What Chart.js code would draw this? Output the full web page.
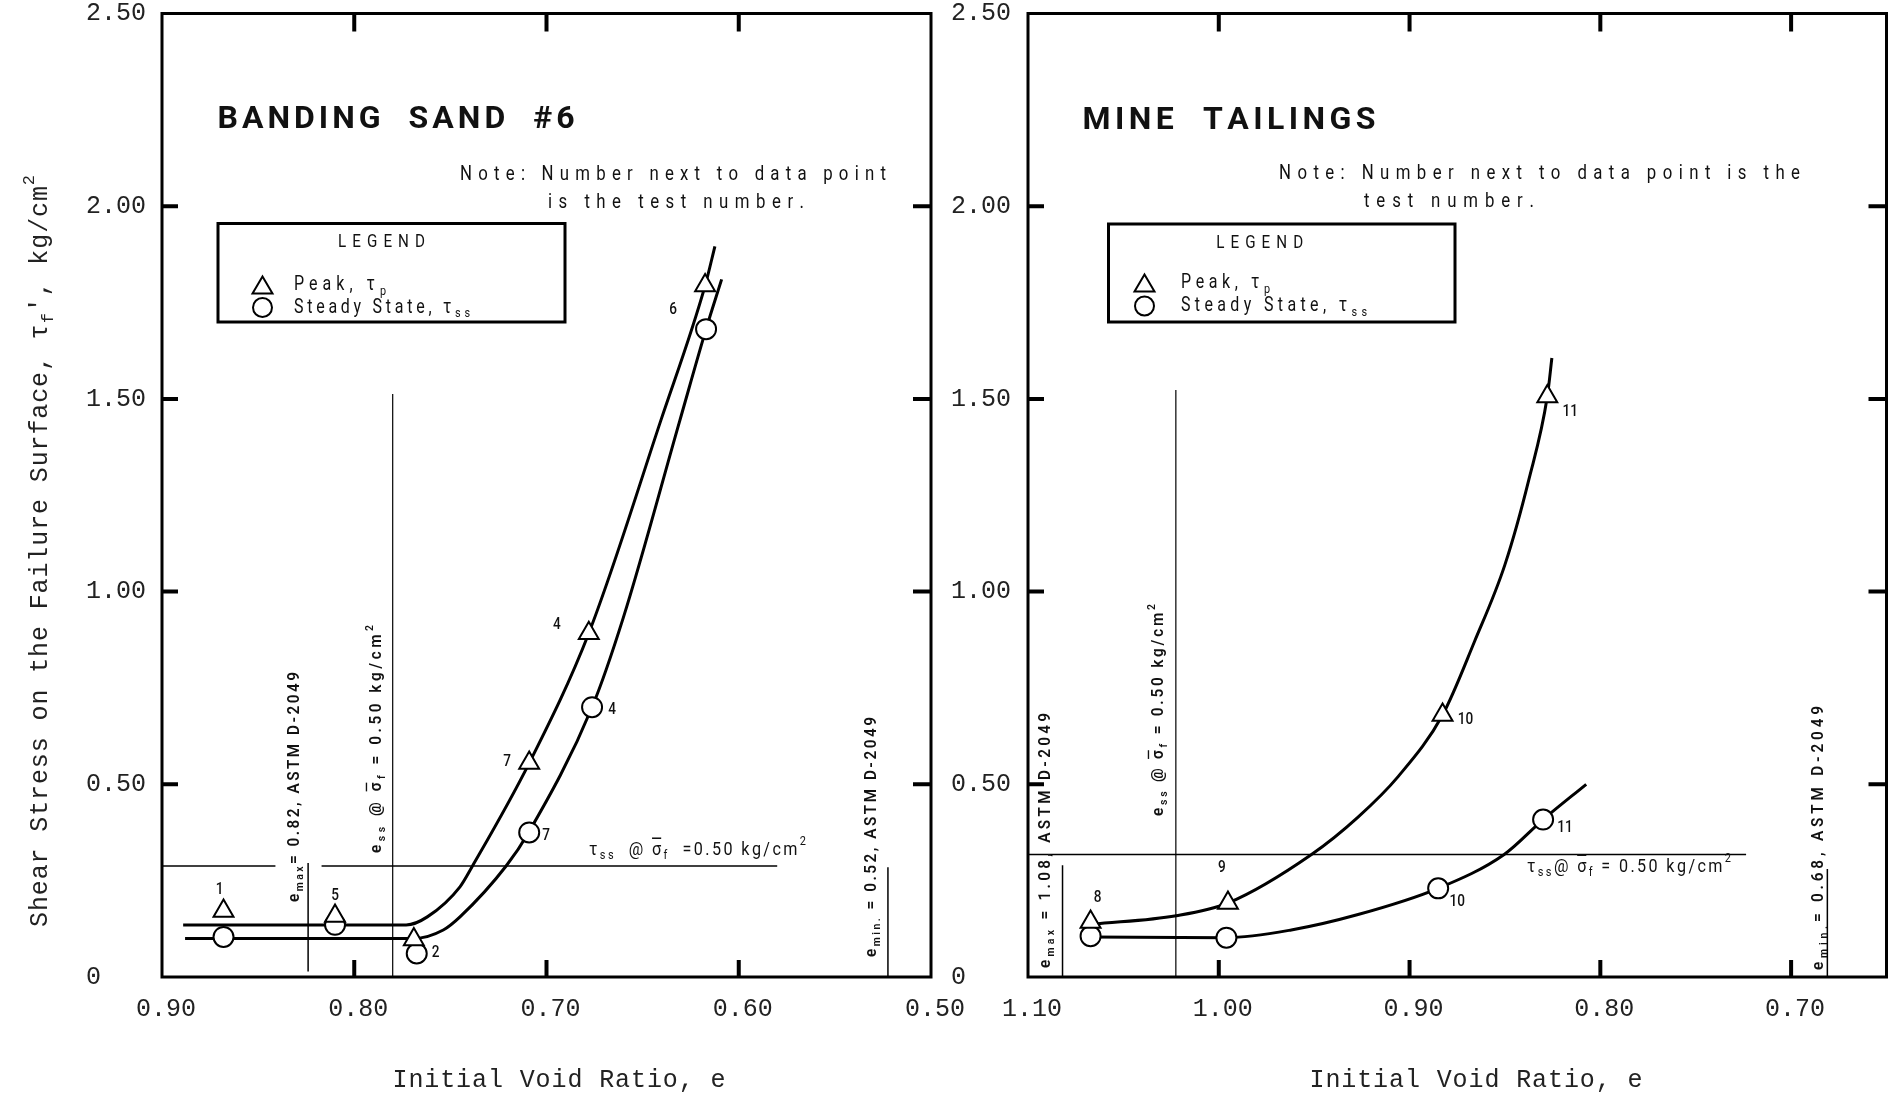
<!DOCTYPE html>
<html>
<head>
<meta charset="utf-8">
<script src="https://cdn.jsdelivr.net/npm/chart.js@4.4.1/dist/chart.umd.min.js"></script>
<style>
html,body{margin:0;padding:0;background:#fff;overflow:hidden}
#wrap{position:relative;width:1890px;height:1094px;overflow:hidden;background:#fff}
canvas{position:absolute;top:0}
</style>
</head>
<body>
<div id="wrap">
<canvas id="c1" width="990" height="1094" style="left:0px"></canvas>
<canvas id="c2" width="960" height="1094" style="left:940px"></canvas>
</div>
<script>
// ================= DATA =================
// shared y axis (shear stress, kg/cm2)
const yTicks = [0, 0.5, 1.0, 1.5, 2.0, 2.5];
const yTickLabels = ['0', '0.50', '1.00', '1.50', '2.00', '2.50'];
const yMarks = [0.5, 1.0, 1.5, 2.0];

// ---- Banding Sand #6 ----
const sandXTicks = [0.90, 0.80, 0.70, 0.60, 0.50];
const sandXTickLabels = ['0.90', '0.80', '0.70', '0.60', '0.50'];
const sandXMarks = [0.80, 0.70, 0.60];
const sandPeakVoid = [0.868, 0.810, 0.769, 0.709, 0.678, 0.6175];
const sandPeakTau = [0.171, 0.158, 0.097, 0.555, 0.892, 1.794];
const sandPeakTests = ['1', '5', '2', '7', '4', '6'];
const sandSteadyVoid = [0.868, 0.810, 0.7675, 0.709, 0.6763, 0.617];
const sandSteadyTau = [0.104, 0.1355, 0.061, 0.375, 0.700, 1.681];
const sandSteadyTests = ['1', '5', '2', '7', '4', '6'];
const sandPeakCurveVoid = [0.889, 0.773, 0.762, 0.745, 0.7385, 0.709, 0.678, 0.6406, 0.6175, 0.6124];
const sandPeakCurveTau = [0.135, 0.135, 0.156, 0.234, 0.288, 0.555, 0.892, 1.443, 1.794, 1.896];
const sandSteadyCurveVoid = [0.888, 0.769, 0.7537, 0.745, 0.721, 0.7093, 0.6763, 0.660, 0.6307, 0.617, 0.6089];
const sandSteadyCurveTau = [0.100, 0.100, 0.122, 0.156, 0.288, 0.375, 0.700, 0.933, 1.443, 1.681, 1.810];
const sandTssLevel = 0.288;
const sandTssSegA = [0.90, 0.841];
const sandTssSegB = [0.817, 0.580];
const sandEmax = 0.824, sandEmaxSpan = [0.014, 0.296];
const sandEss = 0.780, sandEssSpan = [0, 1.513];
const sandEmin = 0.5224, sandEminSpan = [0, 0.285];

// ---- Mine Tailings ----
const mineXTicks = [1.10, 1.00, 0.90, 0.80, 0.70];
const mineXTickLabels = ['1.10', '1.00', '0.90', '0.80', '0.70'];
const mineXMarks = [1.00, 0.90, 0.80, 0.70];
const minePeakVoid = [1.0672, 0.9952, 0.8827, 0.8278];
const minePeakTau = [0.1425, 0.192, 0.680, 1.506];
const minePeakTests = ['8', '9', '10', '11'];
const mineSteadyVoid = [1.0672, 0.996, 0.885, 0.830];
const mineSteadyTau = [0.106, 0.102, 0.230, 0.4085];
const mineSteadyTests = ['8', '9', '10', '11'];
const minePeakCurveVoid = [1.066, 1.0223, 0.9952, 0.9514, 0.927, 0.906, 0.8827, 0.866, 0.850, 0.8375, 0.8278, 0.8254];
const minePeakCurveTau = [0.137, 0.159, 0.192, 0.318, 0.415, 0.520, 0.680, 0.870, 1.070, 1.290, 1.506, 1.606];
const mineSteadyCurveVoid = [1.0672, 0.996, 0.962, 0.927, 0.885, 0.8504, 0.830, 0.8074];
const mineSteadyCurveTau = [0.104, 0.102, 0.122, 0.162, 0.230, 0.318, 0.4085, 0.500];
const mineTssLevel = 0.318;
const mineTssSeg = [1.10, 0.7236];
const mineEmax = 1.0819, mineEmaxSpan = [0, 0.290];
const mineEss = 1.0225, mineEssSpan = [0, 1.523];
const mineEmin = 0.681, mineEminSpan = [0, 0.280];

// ================= STYLE / LAYOUT =================
const MONO = '"Liberation Mono", "DejaVu Sans Mono", monospace';
const SANS = 'Roboto, "Liberation Sans", sans-serif';
const INK = '#111';
// label offsets (pixels) from their marker, null = no label
const sandPeakLabelOff = [[-4, -21], [0, -20], null, [-22, -1], [-32, -8], [-32, 24]];
const sandSteadyLabelOff = [null, null, [19, -1], [17, 3], [20, 3], null];
const minePeakLabelOff = [[7, -24], [-6, -35], [23, 5], [23, 15]];
const mineSteadyLabelOff = [null, null, [19, 13], [22, 8]];

const pts = (xs, ys) => xs.map((x, i) => ({x: x, y: ys[i]}));
const hline = (seg, lvl) => [{x: seg[0], y: lvl}, {x: seg[1], y: lvl}];
const vline = (x, span) => [{x: x, y: span[0]}, {x: x, y: span[1]}];

function markerSets(pv, pt, sv, st) {
  return [
    {data: pts(pv, pt), showLine: false, pointStyle: 'triangle', pointRadius: 11.5, pointBorderWidth: 2,
     pointBackgroundColor: '#fff', pointBorderColor: '#000', order: 0},
    {data: pts(sv, st), showLine: false, pointStyle: 'circle', pointRadius: 10, pointBorderWidth: 2,
     pointBackgroundColor: '#fff', pointBorderColor: '#000', order: 0}
  ];
}
function curveSet(xs, ys) {
  return {data: pts(xs, ys), showLine: true, pointRadius: 0, borderColor: '#000', borderWidth: 3,
          cubicInterpolationMode: 'monotone', order: 1};
}
function refSet(data, w) {
  return {data: data, showLine: true, pointRadius: 0, borderColor: '#000', borderWidth: w || 1.5, tension: 0, order: 2};
}

// rich text: segments {t, sub, sup, bar}
function drawRich(ctx, segs, o) {
  const base = o.size, fam = o.family || SANS, wt = o.weight || 400, cond = o.cond || 1;
  const chars = [];
  for (const s of segs) {
    const small = s.sub || s.sup;
    const sz = small ? base * 0.68 : base;
    const dy = s.sub ? base * 0.32 : (s.sup ? -base * 0.42 : 0);
    for (const ch of Array.from(s.t)) chars.push({ch: ch, sz: sz, dy: dy, bar: !!s.bar});
  }
  let W0 = 0;
  for (const c of chars) { ctx.font = wt + ' ' + c.sz + 'px ' + fam; c.w = ctx.measureText(c.ch).width * cond; W0 += c.w; }
  let sx = 1, sp = 0;
  if (o.width) {
    if (o.width >= W0) sp = chars.length > 1 ? (o.width - W0) / (chars.length - 1) : 0;
    else sx = o.width / W0;
  }
  const total = W0 * sx + sp * (chars.length - 1);
  ctx.save();
  ctx.translate(o.x, o.y);
  if (o.rotate) ctx.rotate(o.rotate);
  let x = o.align === 'center' ? -total / 2 : (o.align === 'right' ? -total : 0);
  ctx.fillStyle = o.color || INK; ctx.strokeStyle = o.color || INK;
  ctx.textBaseline = 'middle'; ctx.textAlign = 'left';
  for (const c of chars) {
    ctx.font = wt + ' ' + c.sz + 'px ' + fam;
    ctx.save(); ctx.translate(x, c.dy); ctx.scale(sx * cond, 1); ctx.fillText(c.ch, 0, 0); ctx.restore();
    if (c.bar) {
      ctx.lineWidth = Math.max(1, c.sz * 0.08);
      ctx.beginPath(); ctx.moveTo(x, c.dy - c.sz * 0.62); ctx.lineTo(x + c.w * sx, c.dy - c.sz * 0.62); ctx.stroke();
    }
    x += c.w * sx + sp;
  }
  ctx.restore();
}

function drawLegend(ctx, L) {
  ctx.save();
  ctx.fillStyle = '#fff';
  ctx.fillRect(L.x0, L.y0, L.x1 - L.x0, L.y1 - L.y0);
  ctx.strokeStyle = '#000'; ctx.lineWidth = 3;
  ctx.strokeRect(L.x0, L.y0, L.x1 - L.x0, L.y1 - L.y0);
  ctx.lineWidth = 2;
  ctx.beginPath();
  ctx.moveTo(L.mx, L.ty - 8.5); ctx.lineTo(L.mx + 10, L.ty + 8.5); ctx.lineTo(L.mx - 10, L.ty + 8.5); ctx.closePath();
  ctx.stroke();
  ctx.beginPath(); ctx.arc(L.mx, L.cy, 9.5, 0, Math.PI * 2); ctx.stroke();
  ctx.restore();
  drawRich(ctx, [{t: 'LEGEND'}], {x: L.lx, y: L.y0 + 19, width: 87, size: 19, cond: 0.8, align: 'center'});
  drawRich(ctx, [{t: 'Peak, τ'}, {t: 'p', sub: true}], {x: L.tx, y: L.ty, width: L.w1, size: 20, cond: 0.8});
  drawRich(ctx, [{t: 'Steady State, τ'}, {t: 'ss', sub: true}], {x: L.tx, y: L.cy, width: L.w2, size: 20, cond: 0.8});
}

function drawPointLabels(chart, dsIndex, labels, offs) {
  const ctx = chart.ctx;
  const meta = chart.getDatasetMeta(dsIndex);
  ctx.save();
  ctx.fillStyle = INK; ctx.font = '500 16px ' + SANS; ctx.textAlign = 'center'; ctx.textBaseline = 'middle';
  meta.data.forEach((el, i) => {
    if (!offs[i]) return;
    ctx.save(); ctx.translate(el.x + offs[i][0], el.y + offs[i][1]); ctx.scale(0.85, 1.05);
    ctx.fillText(labels[i], 0, 0); ctx.restore();
  });
  ctx.restore();
}

const framePlugin = {
  id: 'frame',
  afterDatasetsDraw(chart, args, opts) {
    const ctx = chart.ctx, a = chart.chartArea, xs = chart.scales.x, ys = chart.scales.y;
    ctx.save();
    ctx.strokeStyle = '#000'; ctx.lineWidth = 3;
    ctx.strokeRect(a.left, a.top, a.right - a.left, a.bottom - a.top);
    ctx.lineWidth = 4;
    ctx.beginPath();
    for (const v of opts.xMarks) {
      const px = xs.getPixelForValue(v);
      ctx.moveTo(px, a.bottom); ctx.lineTo(px, a.bottom - 17);
      ctx.moveTo(px, a.top); ctx.lineTo(px, a.top + 18);
    }
    for (const v of opts.yMarks) {
      const py = ys.getPixelForValue(v);
      ctx.moveTo(a.left, py); ctx.lineTo(a.left + 16, py);
      ctx.moveTo(a.right, py); ctx.lineTo(a.right - 18, py);
    }
    ctx.stroke();
    ctx.restore();
  }
};

const essSegs = [{t: 'e'}, {t: 'ss', sub: true}, {t: ' @ '}, {t: 'σ', bar: true}, {t: 'f', sub: true}, {t: ' = 0.50 kg/cm'}, {t: '2', sup: true}];
const R90 = -Math.PI / 2;
const VLAB = {size: 17, weight: 600, cond: 0.9, align: 'center', rotate: R90};

const sandText = {
  id: 'sandText',
  afterDraw(chart) {
    const ctx = chart.ctx;
    drawPointLabels(chart, 0, sandPeakTests, sandPeakLabelOff);
    drawPointLabels(chart, 1, sandSteadyTests, sandSteadyLabelOff);
    drawRich(ctx, [{t: 'BANDING  SAND  #6'}], {x: 217.5, y: 120, width: 357, size: 32, weight: 700});
    drawRich(ctx, [{t: 'Note: Number next to data point'}], {x: 460, y: 175, width: 426, size: 21, cond: 0.8});
    drawRich(ctx, [{t: 'is the test number.'}], {x: 548, y: 203, width: 256, size: 21, cond: 0.8});
    drawLegend(ctx, {x0: 218, y0: 223.5, x1: 565, y1: 322, lx: 381.5, mx: 262.5, tx: 294, ty: 285, cy: 307.5, w1: 92, w2: 176});
    drawRich(ctx, [{t: 'e'}, {t: 'max', sub: true}, {t: '= 0.82, ASTM D-2049'}], Object.assign({x: 295, y: 787, width: 230}, VLAB));
    drawRich(ctx, essSegs, Object.assign({x: 377, y: 739, width: 228}, VLAB));
    drawRich(ctx, [{t: 'e'}, {t: 'min.', sub: true}, {t: ' = 0.52, ASTM D-2049'}], Object.assign({x: 872, y: 837, width: 240}, VLAB));
    drawRich(ctx, [{t: 'τ'}, {t: 'ss', sub: true}, {t: '  @ '}, {t: 'σ', bar: true}, {t: 'f', sub: true}, {t: '  =0.50 kg/cm'}, {t: '2', sup: true}], {x: 589, y: 850, width: 217, size: 19, cond: 0.85});
    drawRich(ctx, [{t: 'Shear Stress on the Failure Surface, τ'}, {t: 'f', sub: true}, {t: '\', kg/cm'}, {t: '2', sup: true}], {x: 40, y: 551, width: 752, size: 25, family: MONO, align: 'center', rotate: R90, color: '#222'});
    drawRich(ctx, [{t: 'Initial Void Ratio, e'}], {x: 559, y: 1080, width: 333, size: 25, family: MONO, align: 'center', color: '#222'});
  }
};

const mineText = {
  id: 'mineText',
  afterDraw(chart) {
    const ctx = chart.ctx;
    drawPointLabels(chart, 0, minePeakTests, minePeakLabelOff);
    drawPointLabels(chart, 1, mineSteadyTests, mineSteadyLabelOff);
    ctx.save();
    ctx.translate(-940, 0); // page coordinates below
    drawRich(ctx, [{t: 'MINE  TAILINGS'}], {x: 1082.5, y: 121, width: 293, size: 32, weight: 700});
    drawRich(ctx, [{t: 'Note: Number next to data point is the'}], {x: 1279, y: 174, width: 521, size: 21, cond: 0.8});
    drawRich(ctx, [{t: 'test number.'}], {x: 1364, y: 202, width: 170, size: 21, cond: 0.8});
    drawLegend(ctx, {x0: 1108.5, y0: 224, x1: 1455, y1: 322, lx: 1259.7, mx: 1144.5, tx: 1181, ty: 283, cy: 306, w1: 89, w2: 186});
    drawRich(ctx, [{t: 'e'}, {t: 'max', sub: true}, {t: ' = 1.08, ASTM D-2049'}], Object.assign({x: 1046, y: 840.5, width: 255}, VLAB));
    drawRich(ctx, essSegs, Object.assign({x: 1159, y: 710, width: 212}, VLAB));
    drawRich(ctx, [{t: 'e'}, {t: 'min.', sub: true}, {t: '= 0.68, ASTM D-2049'}], Object.assign({x: 1819, y: 838, width: 264}, VLAB));
    drawRich(ctx, [{t: 'τ'}, {t: 'ss', sub: true}, {t: '@ '}, {t: 'σ', bar: true}, {t: 'f', sub: true}, {t: ' = 0.50 kg/cm'}, {t: '2', sup: true}], {x: 1527, y: 867, width: 204, size: 19, cond: 0.85});
    drawRich(ctx, [{t: 'Initial Void Ratio, e'}], {x: 1476, y: 1080, width: 333, size: 25, family: MONO, align: 'center', color: '#222'});
    ctx.restore();
  }
};

function makeChart(id, cfg) {
  return new Chart(document.getElementById(id), {
    type: 'scatter',
    data: {datasets: cfg.datasets},
    options: {
      responsive: false, animation: false, devicePixelRatio: 1, events: [],
      layout: {padding: cfg.padding},
      plugins: {legend: {display: false}, tooltip: {enabled: false}, frame: {xMarks: cfg.xMarks, yMarks: yMarks}},
      scales: {
        x: {
          type: 'linear', reverse: true, min: cfg.xMin, max: cfg.xMax,
          afterFit(s) { s.height = 117; s.paddingLeft = 0; s.paddingRight = 0; },
          afterBuildTicks(s) { s.ticks = cfg.xTicks.map(v => ({value: v})); },
          grid: {display: false, drawTicks: false}, border: {display: false},
          ticks: {autoSkip: false, maxRotation: 0, minRotation: 0, padding: 17, color: '#222', labelOffset: 4,
                  font: {family: MONO, size: 25}, callback: (v, i) => cfg.xTickLabels[i]}
        },
        y: {
          type: 'linear', min: 0, max: 2.5,
          afterFit(s) { s.width = cfg.yWidth; s.paddingTop = 0; s.paddingBottom = 0; },
          afterBuildTicks(s) { s.ticks = yTicks.map(v => ({value: v})); },
          grid: {display: false, drawTicks: false}, border: {display: false},
          ticks: {crossAlign: 'far', padding: 0, color: '#222', font: {family: MONO, size: 25},
                  callback: (v, i) => yTickLabels[i]}
        }
      }
    },
    plugins: [framePlugin, cfg.textPlugin]
  });
}

makeChart('c1', {
  datasets: [
    ...markerSets(sandPeakVoid, sandPeakTau, sandSteadyVoid, sandSteadyTau),
    curveSet(sandPeakCurveVoid, sandPeakCurveTau),
    curveSet(sandSteadyCurveVoid, sandSteadyCurveTau),
    refSet(hline(sandTssSegA, sandTssLevel), 1.6),
    refSet(hline(sandTssSegB, sandTssLevel), 1.6),
    refSet(vline(sandEmax, sandEmaxSpan), 1.5),
    refSet(vline(sandEss, sandEssSpan), 1.2),
    refSet(vline(sandEmin, sandEminSpan), 1.5)
  ],
  padding: {left: 86, right: 59, top: 13, bottom: 0},
  yWidth: 76, xMin: 0.50, xMax: 0.90,
  xTicks: sandXTicks, xTickLabels: sandXTickLabels, xMarks: sandXMarks,
  textPlugin: sandText
});

makeChart('c2', {
  datasets: [
    ...markerSets(minePeakVoid, minePeakTau, mineSteadyVoid, mineSteadyTau),
    curveSet(minePeakCurveVoid, minePeakCurveTau),
    curveSet(mineSteadyCurveVoid, mineSteadyCurveTau),
    refSet(hline(mineTssSeg, mineTssLevel), 1.6),
    refSet(vline(mineEmax, mineEmaxSpan), 1.5),
    refSet(vline(mineEss, mineEssSpan), 1.2),
    refSet(vline(mineEmin, mineEminSpan), 1.5)
  ],
  padding: {left: 11, right: 3.5, top: 13, bottom: 0},
  yWidth: 77, xMin: 0.65, xMax: 1.10,
  xTicks: mineXTicks, xTickLabels: mineXTickLabels, xMarks: mineXMarks,
  textPlugin: mineText
});
</script>
</body>
</html>
